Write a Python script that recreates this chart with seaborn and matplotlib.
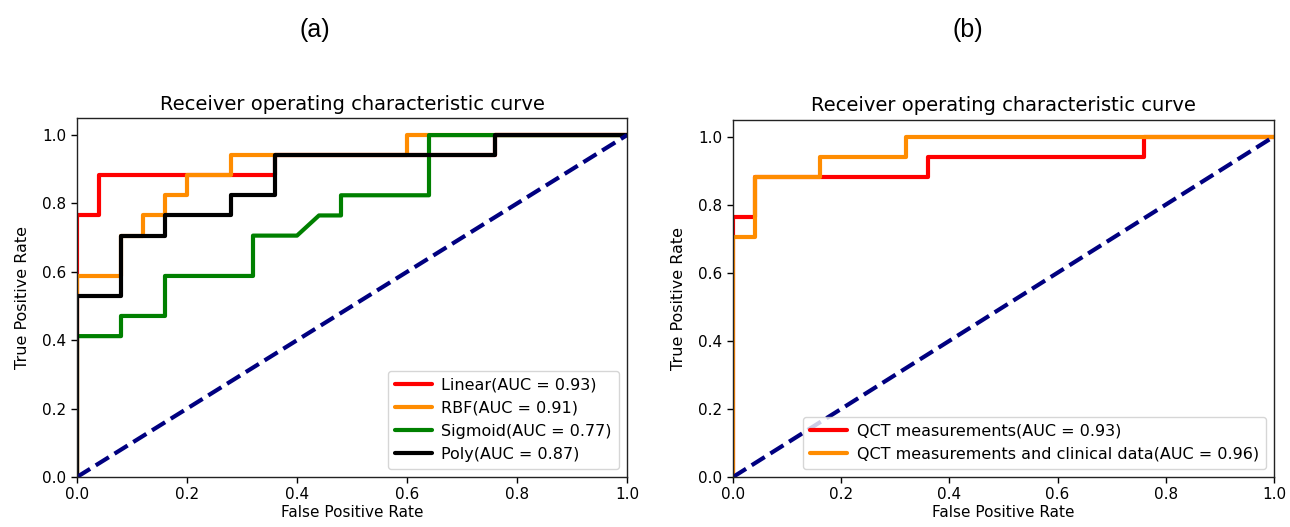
import matplotlib
matplotlib.use("Agg")
import matplotlib.pyplot as plt
import seaborn as sns

# ---------------- data ----------------
# Panel (a): SVM kernels
linear_fpr = [0.0, 0.0, 0.04, 0.04, 0.36, 0.36, 0.76, 0.76, 1.0]
linear_tpr = [0.0, 0.765, 0.765, 0.882, 0.882, 0.941, 0.941, 1.0, 1.0]

rbf_fpr = [0.0, 0.0, 0.08, 0.08, 0.12, 0.12, 0.16, 0.16, 0.20, 0.20, 0.28, 0.28, 0.60, 0.60, 1.0]
rbf_tpr = [0.0, 0.588, 0.588, 0.706, 0.706, 0.765, 0.765, 0.824, 0.824, 0.882, 0.882, 0.941, 0.941, 1.0, 1.0]

sigmoid_fpr = [0.0, 0.0, 0.08, 0.08, 0.16, 0.16, 0.32, 0.32, 0.40, 0.44, 0.48, 0.48, 0.64, 0.64, 1.0]
sigmoid_tpr = [0.0, 0.412, 0.412, 0.471, 0.471, 0.588, 0.588, 0.706, 0.706, 0.765, 0.765, 0.824, 0.824, 1.0, 1.0]

poly_fpr = [0.0, 0.0, 0.08, 0.08, 0.16, 0.16, 0.28, 0.28, 0.36, 0.36, 0.76, 0.76, 1.0]
poly_tpr = [0.0, 0.529, 0.529, 0.706, 0.706, 0.765, 0.765, 0.824, 0.824, 0.941, 0.941, 1.0, 1.0]

labels_a = ["Linear(AUC = 0.93)", "RBF(AUC = 0.91)", "Sigmoid(AUC = 0.77)", "Poly(AUC = 0.87)"]
colors_a = ["red", "darkorange", "green", "black"]

# Panel (b)
qct_fpr = [0.0, 0.0, 0.04, 0.04, 0.36, 0.36, 0.76, 0.76, 1.0]
qct_tpr = [0.0, 0.765, 0.765, 0.882, 0.882, 0.941, 0.941, 1.0, 1.0]

qctc_fpr = [0.0, 0.0, 0.04, 0.04, 0.16, 0.16, 0.32, 0.32, 1.0]
qctc_tpr = [0.0, 0.706, 0.706, 0.882, 0.882, 0.941, 0.941, 1.0, 1.0]

labels_b = ["QCT measurements(AUC = 0.93)", "QCT measurements and clinical data(AUC = 0.96)"]
colors_b = ["red", "darkorange"]

chance = [0.0, 1.0]

panel_titles = ["(a)", "(b)"]
ax_title = "Receiver operating characteristic curve"
xlabel = "False Positive Rate"
ylabel = "True Positive Rate"

# ---------------- plotting ----------------
sns.set_theme(style="ticks")
plt.rcParams["font.family"] = ["DejaVu Sans"]
for k in ["text.color", "axes.labelcolor", "xtick.color", "ytick.color"]:
    plt.rcParams[k] = "black"
plt.rcParams["axes.edgecolor"] = "#222222"
plt.rcParams["axes.linewidth"] = 1.0

fig = plt.figure(figsize=(12.9, 5.27), dpi=100)
ax1 = fig.add_axes([77 / 1290, 50 / 527, 550 / 1290, 359 / 527])
ax2 = fig.add_axes([733 / 1290, 50 / 527, 541 / 1290, 357.5 / 527])

lw = 3

series_a = [(linear_fpr, linear_tpr), (rbf_fpr, rbf_tpr), (sigmoid_fpr, sigmoid_tpr), (poly_fpr, poly_tpr)]
for (fx, ty), lab, col in zip(series_a, labels_a, colors_a):
    sns.lineplot(x=fx, y=ty, sort=False, estimator=None, color=col, lw=lw, label=lab, ax=ax1)
sns.lineplot(x=chance, y=chance, sort=False, estimator=None, color="navy", lw=lw, linestyle="--", ax=ax1)

series_b = [(qct_fpr, qct_tpr), (qctc_fpr, qctc_tpr)]
for (fx, ty), lab, col in zip(series_b, labels_b, colors_b):
    sns.lineplot(x=fx, y=ty, sort=False, estimator=None, color=col, lw=lw, label=lab, ax=ax2)
sns.lineplot(x=chance, y=chance, sort=False, estimator=None, color="navy", lw=lw, linestyle="--", ax=ax2)

for ax in (ax1, ax2):
    ax.set_xlim(0.0, 1.0)
    ax.set_ylim(0.0, 1.05)
    ax.set_xticks([0.0, 0.2, 0.4, 0.6, 0.8, 1.0])
    ax.set_yticks([0.0, 0.2, 0.4, 0.6, 0.8, 1.0])
    ax.tick_params(labelsize=11, length=4, width=1)
    ax.set_xlabel(xlabel, fontsize=11, labelpad=2)
    ax.set_ylabel(ylabel, fontsize=11.5, labelpad=9)
    ax.set_title(ax_title, fontsize=14, pad=6)
    for s in ax.spines.values():
        s.set_visible(True)
    ax.legend(loc="lower right", fontsize=11.5, framealpha=0.8, fancybox=True,
              handlelength=2.3, handletextpad=0.6, borderpad=0.45, labelspacing=0.5)

fig.text(315 / 1290, 1 - 30 / 527, panel_titles[0], ha="center", va="center",
         fontsize=18, family=["Liberation Sans"])
fig.text(968 / 1290, 1 - 30 / 527, panel_titles[1], ha="center", va="center",
         fontsize=18, family=["Liberation Sans"])

fig.savefig("out.png", dpi=100)
